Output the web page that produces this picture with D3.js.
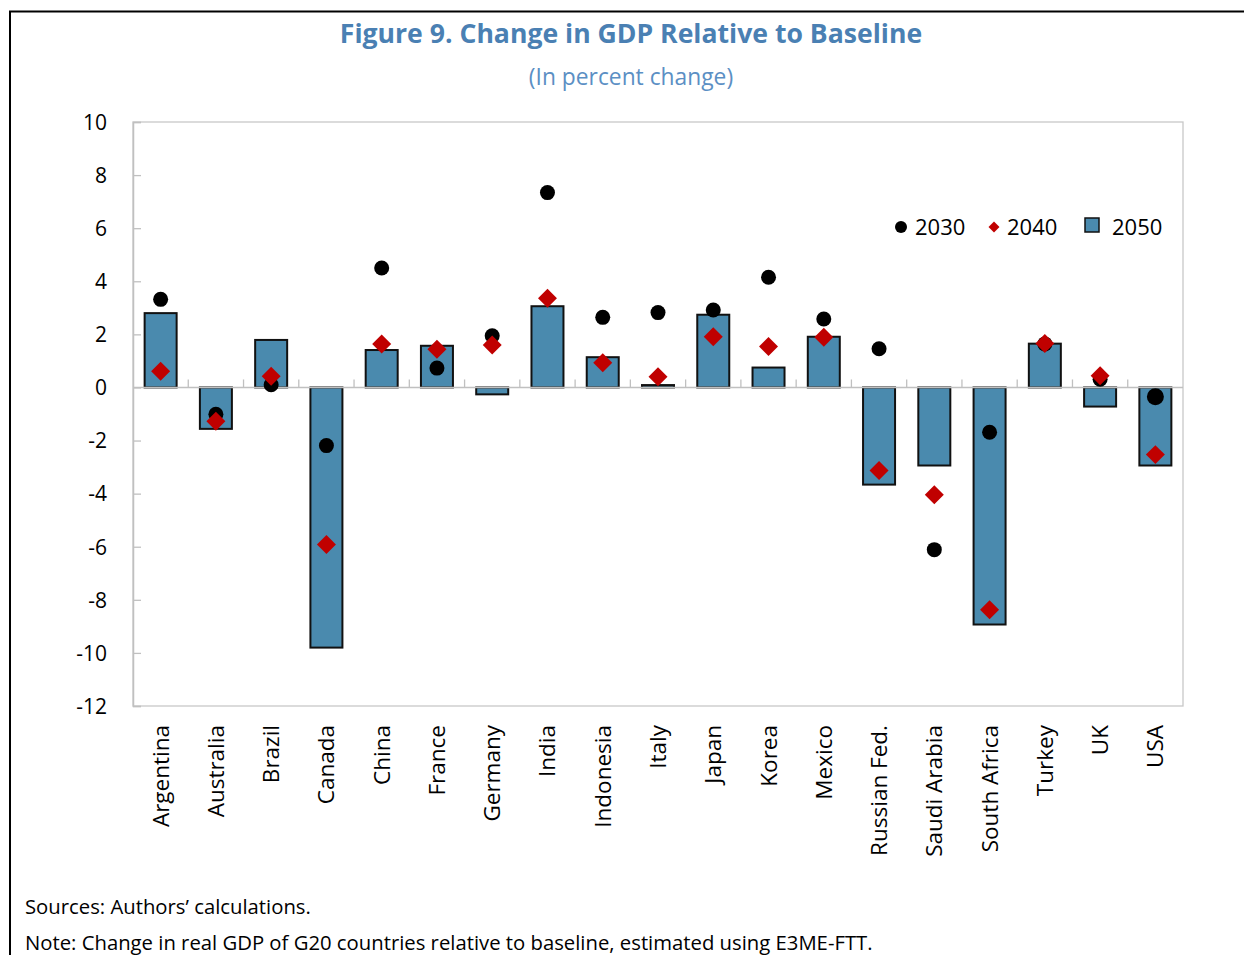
<!DOCTYPE html>
<html><head><meta charset="utf-8">
<script src="https://cdn.jsdelivr.net/npm/d3@7"></script>
<style>body{margin:0;background:#fff}svg{display:block;font-family:"Open Sans","Noto Sans",sans-serif}</style>
</head><body><svg id="c" width="1244" height="955"></svg>
<script>
const categories = ["Argentina","Australia","Brazil","Canada","China","France","Germany","India","Indonesia","Italy","Japan","Korea","Mexico","Russian Fed.","Saudi Arabia","South Africa","Turkey","UK","USA"];
const values2030 = [3.32,-1.01,0.10,-2.19,4.50,0.73,1.95,7.34,2.64,2.82,2.92,4.15,2.58,1.46,-6.11,-1.69,1.64,0.31,-0.35];
const values2040 = [0.61,-1.27,0.42,-5.92,1.64,1.44,1.60,3.36,0.93,0.40,1.91,1.54,1.89,-3.13,-4.04,-8.37,1.66,0.44,-2.53];
const values2050 = [2.80,-1.56,1.79,-9.80,1.41,1.57,-0.26,3.06,1.14,0.09,2.74,0.75,1.91,-3.66,-2.94,-8.93,1.65,-0.72,-2.94];
const yTicks = [10,8,6,4,2,0,-2,-4,-6,-8,-10,-12];
const seriesNames = ["2030","2040","2050"];
const title = "Figure 9. Change in GDP Relative to Baseline";
const subtitle = "(In percent change)";
const notes = ["Sources: Authors\u2019 calculations.","Note: Change in real GDP of G20 countries relative to baseline, estimated using E3ME-FTT."];

const svg = d3.select("#c");
const L=133,R=1183,T=122,B=706;
const blue="#4a8aae", red="#c00000", titleBlue="#4a80b3";

// outer frame
svg.append("path").attr("d","M10,955 V11.5 H1244").attr("fill","none").attr("stroke","#000").attr("stroke-width",2);

svg.append("text").attr("x",631).attr("y",43).attr("text-anchor","middle")
  .attr("font-size",26.6).attr("font-weight",700).attr("fill",titleBlue).text(title);
svg.append("text").attr("x",631).attr("y",85).attr("text-anchor","middle")
  .attr("font-size",22.8).attr("fill","#5b8fc4").text(subtitle);

const x = d3.scaleBand().domain(categories).range([L,R]);
const y = d3.scaleLinear().domain([-12,10]).range([B,T]);

// plot border
svg.append("rect").attr("x",L).attr("y",T).attr("width",R-L).attr("height",B-T)
  .attr("fill","none").attr("stroke","#c8c8c8").attr("stroke-width",1.3);

// y axis
const yAxis = svg.append("g").attr("transform",`translate(${L},0)`)
  .call(d3.axisRight(y).tickValues(yTicks).tickSize(8).tickFormat(d=>String(d)));
yAxis.select(".domain").attr("stroke","#c0c0c0").attr("stroke-width",1.5);
yAxis.selectAll(".tick line").attr("stroke","#c0c0c0").attr("stroke-width",1.3);
yAxis.selectAll(".tick text").attr("x",-26).attr("text-anchor","end").attr("font-size",21).attr("fill","#000").attr("dy","0.35em")
  .attr("font-family",'"Open Sans","Noto Sans",sans-serif');

// bars
svg.append("g").selectAll("rect").data(categories).join("rect")
  .attr("x",d=>x(d)+x.bandwidth()/2-16)
  .attr("width",32)
  .attr("y",(d,i)=>y(Math.max(0,values2050[i])))
  .attr("height",(d,i)=>Math.abs(y(values2050[i])-y(0)))
  .attr("fill",blue).attr("stroke","#111").attr("stroke-width",2);

// zero axis with category ticks
svg.append("line").attr("x1",L).attr("x2",R).attr("y1",y(0)).attr("y2",y(0)).attr("stroke","#c0c0c0").attr("stroke-width",1.5);
svg.append("g").selectAll("line").data(categories.slice(1)).join("line")
  .attr("x1",d=>x(d)).attr("x2",d=>x(d)).attr("y1",y(0)).attr("y2",y(0)-8)
  .attr("stroke","#c0c0c0").attr("stroke-width",1.3);

// 2030 circles
svg.append("g").selectAll("circle").data(categories).join("circle")
  .attr("cx",d=>x(d)+x.bandwidth()/2).attr("cy",(d,i)=>y(values2030[i]))
  .attr("r",(d,i)=>i===categories.length-1?8.5:7.5).attr("fill","#000");

// 2040 diamonds
const dia = d3.symbol().type(d3.symbolSquare).size(180);
svg.append("g").selectAll("path").data(categories).join("path")
  .attr("d",dia())
  .attr("transform",(d,i)=>`translate(${x(d)+x.bandwidth()/2},${y(values2040[i])}) rotate(45)`)
  .attr("fill",red);

// category labels
svg.append("g").selectAll("text").data(categories).join("text")
  .attr("transform",d=>`translate(${x(d)+x.bandwidth()/2+8},725) rotate(-90)`)
  .attr("text-anchor","end").attr("font-size",22.5).attr("fill","#000").text(d=>d);

// legend
const lg = svg.append("g");
lg.append("circle").attr("cx",901).attr("cy",227).attr("r",6).attr("fill","#000");
lg.append("text").attr("x",915).attr("y",235).attr("font-size",22).text(seriesNames[0]);
lg.append("path").attr("d",d3.symbol().type(d3.symbolSquare).size(60)()).attr("transform","translate(994,227) rotate(45)").attr("fill",red);
lg.append("text").attr("x",1007).attr("y",235).attr("font-size",22).text(seriesNames[1]);
lg.append("rect").attr("x",1085).attr("y",218).attr("width",14).attr("height",14).attr("fill",blue).attr("stroke","#111").attr("stroke-width",1.5);
lg.append("text").attr("x",1112).attr("y",235).attr("font-size",22).text(seriesNames[2]);

// notes
svg.append("g").selectAll("text").data(notes).join("text")
  .attr("x",25).attr("y",(d,i)=>914+i*36).attr("font-size",20.3).attr("fill","#000").text(d=>d);
</script></body></html>
